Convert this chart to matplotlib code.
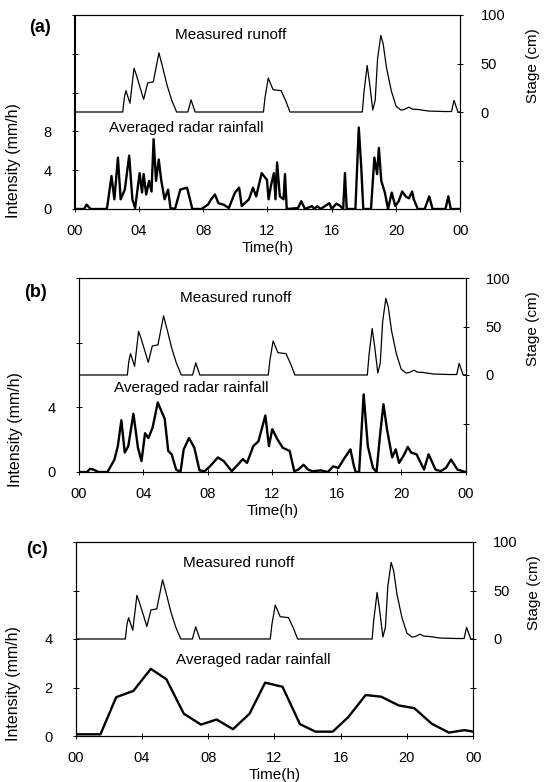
import matplotlib
matplotlib.use("Agg")
import matplotlib.pyplot as plt

plt.rcParams["font.family"] = ["Liberation Sans", "DejaVu Sans"]

# measured runoff (stage, cm) -- same record in all three panels
runoff_t = [0, 3.0, 3.1, 3.2, 3.45, 3.7, 3.85, 4.3, 4.55, 4.9, 5.25, 5.5,
            5.75, 6.05, 6.35, 7.05, 7.25, 7.5, 11.75, 11.85, 12.05, 12.35,
            12.85, 13.15, 13.4, 17.9, 18.0, 18.2, 18.35, 18.55, 18.7, 18.85,
            19.05, 19.2, 19.4, 19.7, 20.0, 20.3, 20.5, 20.8, 21.0, 21.4,
            22.0, 23.0, 23.45, 23.6, 23.85, 24]
runoff_stage = [0, 0, 15, 22, 9, 45, 38, 13, 30, 31, 61, 45,
                28, 12, 0, 0, 12.5, 0, 0, 15, 35, 23,
                22, 11, 0, 0, 20, 48, 30, 2, 12, 55,
                79, 70, 46, 22, 6, 2, 2.5, 5, 3, 2.5,
                1, 0.5, 0.5, 12, 0, 0]

# (a) averaged radar rainfall, fine resolution
rain_a_t = [0, 0.6, 0.75, 1.0, 2.0, 2.05, 2.3, 2.48, 2.7, 2.87, 3.13, 3.4,
            3.6, 3.77, 4.05, 4.2, 4.3, 4.46, 4.64, 4.79, 4.92, 5.07, 5.24,
            5.39, 5.6, 5.82, 5.97, 6.25, 6.58, 7.0, 7.33, 7.9, 8.3, 8.5,
            8.73, 8.95, 9.27, 9.6, 9.98, 10.24, 10.4, 10.85, 11.1, 11.3,
            11.64, 11.97, 12.07, 12.23, 12.4, 12.5, 12.6, 12.77, 13.0,
            13.09, 13.2, 13.9, 14.1, 14.34, 14.77, 14.9, 15.1, 15.3, 15.85,
            16.0, 16.28, 16.5, 16.71, 16.82, 16.93, 17.47, 17.68, 17.83,
            17.96, 18.44, 18.65, 18.82, 18.93, 19.08, 19.3, 19.5, 19.73,
            19.95, 20.16, 20.38, 20.6, 20.8, 21.0, 21.1, 21.35, 21.78, 22.06,
            22.27, 23.07, 23.25, 23.4, 24]
rain_a = [0, 0, 0.45, 0, 0, 0.4, 3.4, 1.0, 5.3, 1.0, 2.0, 5.5,
          1.0, 0.1, 3.7, 1.7, 3.6, 1.5, 2.9, 1.8, 7.2, 2.9, 5.1,
          3.0, 1.0, 2.0, 0.1, 0, 2.0, 2.2, 0, 0, 0.45, 1.0,
          1.5, 0.6, 0.45, 0.1, 1.7, 2.2, 0.3, 1.0, 2.2, 1.3,
          3.7, 3.0, 1.0, 2.5, 3.7, 1.0, 4.8, 1.3, 1.0,
          3.6, 0, 0.1, 0.8, 0, 0.3, 0, 0.3, 0, 0.6,
          0, 0.55, 0.35, 0, 3.7, 0, 0, 8.4, 4.4,
          0, 0, 5.3, 3.6, 6.3, 2.9, 1.7, 0, 1.7,
          0.3, 0.8, 1.8, 1.3, 1.1, 1.8, 1.0, 0, 0, 1.3,
          0, 0, 1.3, 0, 0]

# (b) averaged radar rainfall, smoothed
rain_b_t = [0, 0.5, 0.69, 0.9, 1.2, 1.77, 2.2, 2.41, 2.63, 2.84, 3.06, 3.38,
            3.66, 3.88, 4.1, 4.31, 4.57, 4.89, 5.1, 5.32, 5.54, 5.75, 6.03,
            6.3, 6.5, 6.83, 7.16, 7.48, 7.8, 8.13, 8.62, 8.99, 9.48, 9.96,
            10.17, 10.43, 10.82, 11.14, 11.57, 11.79, 12.0, 12.33, 12.65,
            13.08, 13.36, 13.62, 13.94, 14.22, 14.48, 15.02, 15.45, 15.78,
            16.1, 16.42, 16.85, 17.07, 17.18, 17.39, 17.67, 17.93, 18.25,
            18.47, 18.68, 18.9, 19.12, 19.44, 19.66, 19.87, 20.2, 20.41,
            20.62, 20.95, 21.42, 21.7, 22.13, 22.46, 22.78, 23.1, 23.49, 24]
rain_b = [0, 0, 0.2, 0.15, 0, 0, 0.77, 1.6, 3.2, 1.2, 1.6, 3.6,
          1.5, 0.67, 2.4, 2.1, 2.75, 4.3, 3.8, 3.3, 1.3, 1.1, 0.15,
          0, 1.4, 2.1, 1.5, 0.1, 0.05, 0.35, 0.9, 0.67, 0.05, 0.56,
          0.8, 0.56, 1.6, 1.9, 3.5, 1.6, 2.65, 2.0, 1.5,
          1.3, 0.05, 0.15, 0.45, 0.15, 0.05, 0.1, 0, 0.35,
          0.25, 0.77, 1.4, 0.35, 0, 0, 4.8, 1.6, 0.25,
          0, 2.2, 4.2, 2.65, 0.9, 1.4, 0.56, 1.1, 1.55,
          1.2, 1.1, 0.15, 1.1, 0.15, 0.05, 0.25, 0.77, 0.15, 0]

# (c) averaged radar rainfall, hourly
rain_c_t = [0, 1.5, 2.45, 3.49, 4.54, 5.48, 6.53, 7.57, 8.51, 9.5, 10.5,
            11.44, 12.49, 13.54, 14.48, 15.52, 16.46, 17.51, 18.45, 19.5,
            20.44, 21.49, 22.53, 23.47, 24]
rain_c = [0.07, 0.07, 1.6, 1.86, 2.77, 2.34, 0.92, 0.47, 0.68, 0.28, 0.92,
          2.2, 2.03, 0.49, 0.18, 0.18, 0.78, 1.69, 1.62, 1.26,
          1.15, 0.51, 0.14, 0.24, 0.18]

x_ticks = [0, 4, 8, 12, 16, 20, 24]
x_labels = ["00", "04", "08", "12", "16", "20", "00"]

panels = [
    # tag, rain t, rain, intensity max, tick step, labelled ticks,
    # axes box (px: left, right, top, bottom), ylabel (right edge px, y),
    # stage label (left edge px), tag pos, runoff caption, rainfall caption
    ("(a)", rain_a_t, rain_a, 20, 4, [0, 4, 8], (74.5, 460.4, 15, 209),
     (21.5, 0.25), 526.0, (-0.089, 0.933), (0.405, 0.897), (0.289, 0.418)),
    ("(b)", rain_b_t, rain_b, 12, 4, [0, 4], (79, 465.6, 278, 472),
     (23.3, 0.22), 526.0, (-0.112, 0.923), (0.405, 0.897), (0.291, 0.433)),
    ("(c)", rain_c_t, rain_c, 8, 2, [0, 2, 4], (75.6, 473.2, 542, 736),
     (20.8, 0.27), 527.0, (-0.096, 0.959), (0.411, 0.892), (0.446, 0.392)),
]

W, H = 544, 782
fig = plt.figure(figsize=(W / 100, H / 100), dpi=100)

for (tag, rt, rv, imax, step, shown, box, ylab, stage_x,
     tag_xy, run_xy, rain_xy) in panels:
    x0, x1, y0, y1 = box
    ax = fig.add_axes([x0 / W, 1 - y1 / H, (x1 - x0) / W, (y1 - y0) / H])
    ax.plot(rt, rv, color="black", lw=1.7)
    ax.set_xlim(0, 24)
    ax.set_ylim(0, imax)
    yt = list(range(0, imax + 1, step))
    ax.set_yticks(yt)
    ax.set_yticklabels([str(v) if v in shown else "" for v in yt])
    ax.set_xticks(x_ticks)
    ax.set_xticklabels(x_labels)
    ax.set_xlabel("Time(h)", fontsize=11, labelpad=2)
    ax.set_ylabel("Intensity (mm/h)", fontsize=11.5)
    ax.yaxis.set_label_coords((ylab[0] - x0) / (x1 - x0), ylab[1])
    ax.tick_params(axis="y", direction="inout", length=5, width=0.7,
                   labelsize=10.5, pad=14)
    ax.tick_params(axis="x", direction="inout", length=4, width=0.7,
                   labelsize=10.5, pad=9)

    ax2 = ax.twinx()
    ax2.plot(runoff_t, runoff_stage, color="black", lw=0.9)
    ax2.set_ylim(-100, 100)
    ax2.set_yticks([-50, 0, 50, 100])
    ax2.set_yticklabels(["", "0", "50", "100"])
    ax2.set_ylabel("Stage (cm)", fontsize=11)
    ax2.yaxis.set_label_coords((stage_x - x0) / (x1 - x0), 0.74)
    ax2.tick_params(direction="inout", length=5, width=0.7, labelsize=10.5,
                    pad=12)

    for a in (ax, ax2):
        for s in a.spines.values():
            s.set_linewidth(0.8)

    ax.text(*tag_xy, tag, transform=ax.transAxes, fontsize=13,
            fontweight="bold", ha="center", va="center")
    ax.text(*run_xy, "Measured runoff", transform=ax.transAxes,
            fontsize=11, ha="center", va="center")
    ax.text(*rain_xy, "Averaged radar rainfall", transform=ax.transAxes,
            fontsize=11, ha="center", va="center")

fig.savefig("out.png", dpi=100)
